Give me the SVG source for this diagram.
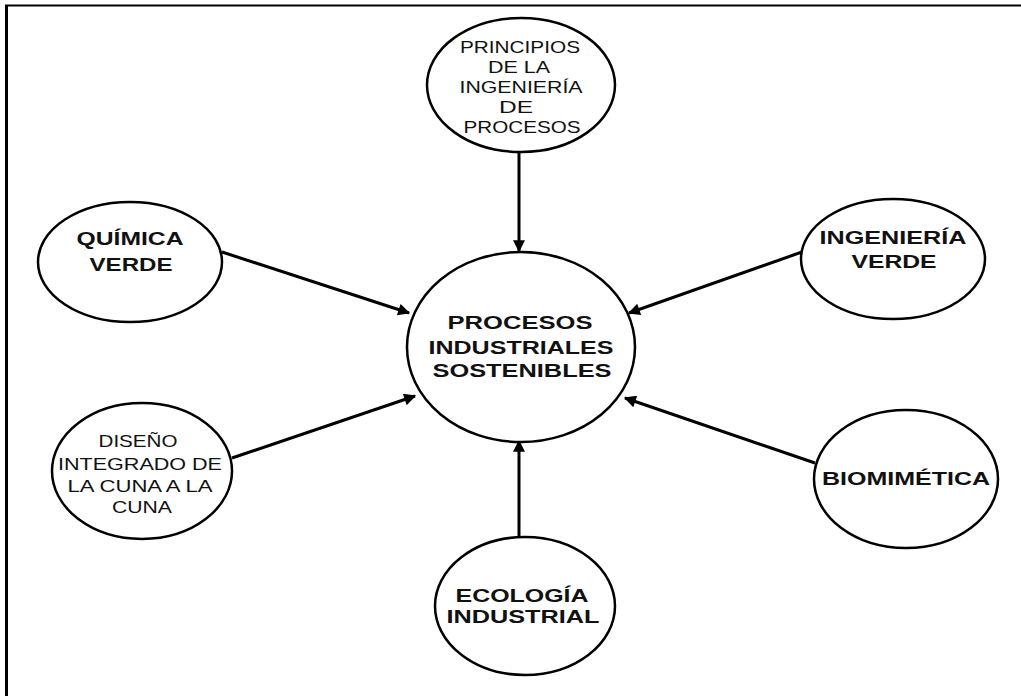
<svg xmlns="http://www.w3.org/2000/svg" width="1021" height="696" viewBox="0 0 1021 696">
<defs>
<style>
.node ellipse{fill:#fff;stroke:#000;stroke-width:2.5}
.b{font-family:"Liberation Sans",Arial,sans-serif;font-weight:bold;font-size:18px;fill:#111;text-anchor:middle}
.r{font-family:"Liberation Sans",Arial,sans-serif;font-size:17px;fill:#111;text-anchor:middle}
.conn line{stroke:#000;stroke-width:3;marker-end:url(#ah)}
</style>
<marker id="ah" viewBox="0 0 10 10" refX="9" refY="5" markerWidth="5" markerHeight="4" markerUnits="strokeWidth" orient="auto">
<path d="M0,0 L10,5 L0,10 z" fill="#000"/>
</marker>
</defs>
<rect width="1021" height="696" fill="#fff"/>
<g id="border" stroke="#000" fill="none">
<line x1="5" y1="5.5" x2="1021" y2="5.5" stroke-width="2"/>
<line x1="6.5" y1="5" x2="6.5" y2="696" stroke-width="3"/>
</g>
<g class="conn" id="connectors">
<line x1="519" y1="152" x2="519" y2="251"/>
<line x1="222" y1="252" x2="409" y2="313"/>
<line x1="802" y1="252" x2="629" y2="313"/>
<line x1="232" y1="458" x2="415" y2="396"/>
<line x1="815" y1="463" x2="625" y2="398"/>
<line x1="519" y1="537" x2="519" y2="441"/>
</g>
<g class="node" id="n-principios">
<ellipse cx="521" cy="85" rx="94" ry="67"/>
<text class="r" x="520" y="53" textLength="120" lengthAdjust="spacingAndGlyphs">PRINCIPIOS</text>
<text class="r" x="519" y="73" textLength="62" lengthAdjust="spacingAndGlyphs">DE LA</text>
<text class="r" x="521" y="93" textLength="123" lengthAdjust="spacingAndGlyphs">INGENIERÍA</text>
<text class="r" x="516" y="113" textLength="34" lengthAdjust="spacingAndGlyphs">DE</text>
<text class="r" x="522" y="133" textLength="117" lengthAdjust="spacingAndGlyphs">PROCESOS</text>
</g>
<g class="node" id="n-procesos">
<ellipse cx="521" cy="347" rx="114" ry="95"/>
<text class="b" x="520" y="329" textLength="145" lengthAdjust="spacingAndGlyphs">PROCESOS</text>
<text class="b" x="521" y="354" textLength="185" lengthAdjust="spacingAndGlyphs">INDUSTRIALES</text>
<text class="b" x="522" y="377" textLength="179" lengthAdjust="spacingAndGlyphs">SOSTENIBLES</text>
</g>
<g class="node" id="n-quimica">
<ellipse cx="130" cy="262" rx="92" ry="60"/>
<text class="b" x="130" y="245" textLength="107" lengthAdjust="spacingAndGlyphs">QUÍMICA</text>
<text class="b" x="131" y="271" textLength="83" lengthAdjust="spacingAndGlyphs">VERDE</text>
</g>
<g class="node" id="n-ingverde">
<ellipse cx="893" cy="259" rx="92" ry="60"/>
<text class="b" x="893" y="244" textLength="147" lengthAdjust="spacingAndGlyphs">INGENIERÍA</text>
<text class="b" x="894" y="268" textLength="85" lengthAdjust="spacingAndGlyphs">VERDE</text>
</g>
<g class="node" id="n-diseno">
<ellipse cx="142" cy="471" rx="90" ry="68"/>
<text class="r" x="138" y="447" textLength="79" lengthAdjust="spacingAndGlyphs">DISEÑO</text>
<text class="r" x="140" y="470" textLength="164" lengthAdjust="spacingAndGlyphs">INTEGRADO DE</text>
<text class="r" x="140" y="492" textLength="145" lengthAdjust="spacingAndGlyphs">LA CUNA A LA</text>
<text class="r" x="142" y="513" textLength="60" lengthAdjust="spacingAndGlyphs">CUNA</text>
</g>
<g class="node" id="n-biomimetica">
<ellipse cx="906" cy="479" rx="92" ry="69"/>
<text class="b" x="906" y="485" textLength="168" lengthAdjust="spacingAndGlyphs">BIOMIMÉTICA</text>
</g>
<g class="node" id="n-ecologia">
<ellipse cx="525" cy="606" rx="90" ry="69"/>
<text class="b" x="522" y="602" textLength="133" lengthAdjust="spacingAndGlyphs">ECOLOGÍA</text>
<text class="b" x="523" y="623" textLength="153" lengthAdjust="spacingAndGlyphs">INDUSTRIAL</text>
</g>
</svg>
